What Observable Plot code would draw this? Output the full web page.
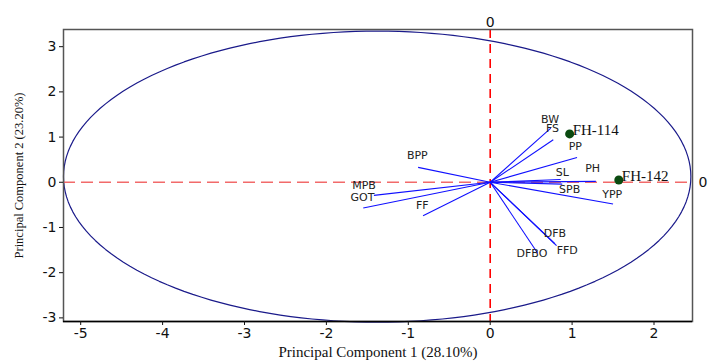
<!DOCTYPE html>
<html>
<head>
<meta charset="utf-8">
<script src="https://cdn.jsdelivr.net/npm/d3@7"></script>
<script src="https://cdn.jsdelivr.net/npm/@observablehq/plot@0.6"></script>
<style>
  html, body { margin: 0; padding: 0; background: #fff; }
</style>
</head>
<body>
<div id="chart"></div>
<script>
// Variable loadings (vector tips)
const varNames = ["BW", "FS", "PP", "PH", "SL", "SPB", "YPP", "BPP", "MPB", "GOT", "FF", "DFB", "FFD", "DFBO"];
const vecX = [0.74, 0.77, 1.06, 1.29, 0.86, 0.88, 1.50, -0.88, -1.42, -1.55, -0.82, 0.79, 0.81, 0.58];
const vecY = [1.20, 0.94, 0.55, 0.02, 0.06, -0.04, -0.48, 0.33, -0.29, -0.57, -0.74, -1.36, -1.40, -1.57];
// Label anchor points (data units)
const labX = [0.73, 0.76, 1.04, 1.25, 0.88, 0.97, 1.49, -0.89, -1.54, -1.56, -0.83, 0.79, 0.94, 0.51];
const labY = [1.40, 1.18, 0.79, 0.30, 0.22, -0.17, -0.26, 0.59, -0.07, -0.33, -0.52, -1.14, -1.50, -1.57];

// Genotype scores
const genotypes = ["FH-114", "FH-142"];
const genoX = [0.97, 1.57];
const genoY = [1.07, 0.05];

// Confidence ellipse parameters
const ellipseCenter = [-1.38, 0.125];
const ellipseRadii = [3.83, 3.22];

const xTicks = [-5, -4, -3, -2, -1, 0, 1, 2];
const yTicks = [-3, -2, -1, 0, 1, 2, 3];
const xLabel = "Principal Component 1 (28.10%)";
const yLabel = "Principal Component 2 (23.20%)";

const vectors = varNames.map((n, i) => ({name: n, x: vecX[i], y: vecY[i], lx: labX[i], ly: labY[i]}));
const points = genotypes.map((n, i) => ({name: n, x: genoX[i], y: genoY[i]}));
const ellipse = d3.range(0, 361, 2).map(a => {
  const t = a * Math.PI / 180;
  return {x: ellipseCenter[0] + ellipseRadii[0] * Math.cos(t), y: ellipseCenter[1] + ellipseRadii[1] * Math.sin(t)};
});

const fmt = d => String(d);
const serif = "Liberation Serif, Times New Roman, serif";

const chart = Plot.plot({
  width: 708,
  height: 361,
  marginLeft: 63,
  marginRight: 16,
  marginTop: 29,
  marginBottom: 40,
  style: {fontFamily: "DejaVu Sans, Verdana, sans-serif", fontSize: "14px", color: "#111", background: "#fff"},
  x: {domain: [-5.21, 2.47]},
  y: {domain: [-3.08, 3.38]},
  marks: [
    Plot.line(ellipse, {x: "x", y: "y", stroke: "#1a1a8a", strokeWidth: 1.2}),
    Plot.ruleY([0], {stroke: "#f26a6a", strokeWidth: 1.6, strokeDasharray: "12,6"}),
    Plot.ruleX([0], {stroke: "#ff0000", strokeWidth: 1.6, strokeDasharray: "9,6"}),
    Plot.link(vectors, {x1: () => 0, y1: () => 0, x2: "x", y2: "y", stroke: "#1010ff", strokeWidth: 1.1}),
    Plot.text(vectors, {x: "lx", y: "ly", text: "name", fontSize: 11, fill: "#222"}),
    Plot.dot(points, {x: "x", y: "y", r: 4.5, fill: "#0a4a10", stroke: "none"}),
    Plot.text(points, {x: "x", y: "y", text: "name", textAnchor: "start", dx: 3, dy: -4, fontSize: 15, fontFamily: serif, fill: "#111"}),
    Plot.frame({stroke: "#555", strokeWidth: 1.5}),
    Plot.ruleY([-3.08], {stroke: "#000", strokeWidth: 1.5}),
    Plot.axisX(xTicks, {tickSize: 4, tickPadding: 3, label: null, fontSize: 14, tickFormat: fmt}),
    Plot.axisY(yTicks, {tickSize: 4, tickPadding: 3, label: null, fontSize: 14, tickFormat: fmt}),
    Plot.axisX([0], {anchor: "top", tickSize: 0, tickPadding: 3, label: null, fontSize: 14, tickFormat: fmt}),
    Plot.axisY([0], {anchor: "right", tickSize: 0, tickPadding: 6, label: null, fontSize: 14, tickFormat: fmt}),
    Plot.text([xLabel], {frameAnchor: "bottom", dy: 35, fontSize: 15, fontFamily: serif, fill: "#111"}),
    Plot.text([yLabel], {frameAnchor: "left", textAnchor: "middle", dx: -45, rotate: -90, fontSize: 12.5, fontFamily: serif, fill: "#111"})
  ]
});
document.getElementById("chart").appendChild(chart);
</script>
</body>
</html>
